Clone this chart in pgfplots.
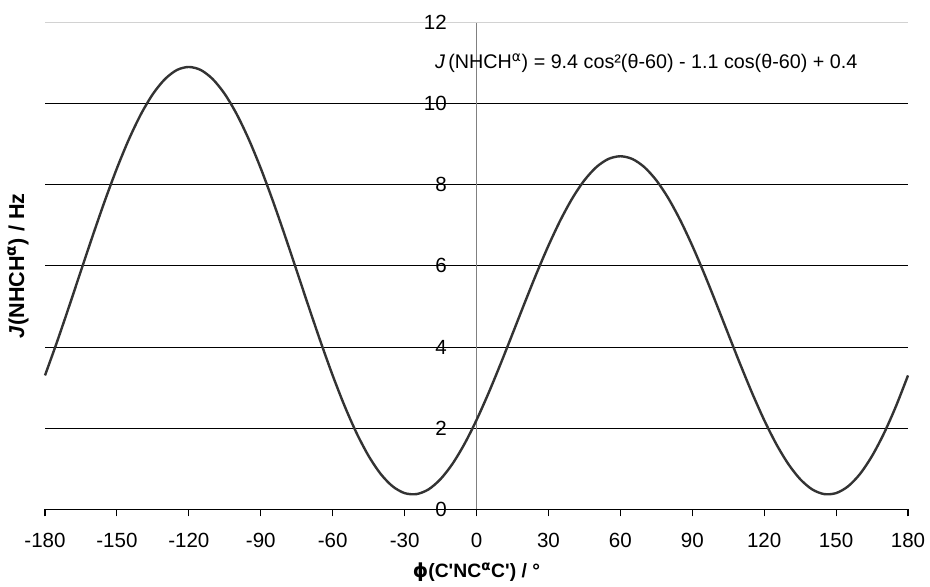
\documentclass[border=0pt]{standalone}
\usepackage{pgfplots}
\pgfplotsset{compat=1.18}
\usepackage{fontspec}
\setmainfont{Liberation Sans}
\newfontfamily\dejavu{DejaVu Sans}

\definecolor{curvecol}{HTML}{333333}

\begin{document}
\fontsize{14.5}{17}\selectfont
\begin{tikzpicture}
\useasboundingbox (-33.75pt,-57.5pt) rectangle (663.75pt,382pt);
\begin{axis}[
    at={(0,0)}, anchor=south west,
    scale only axis,
    width=647.25pt, height=365.25pt,
    xmin=-180, xmax=180, ymin=0, ymax=12,
    axis x line=bottom, axis y line=middle,
    hide obscured y ticks=false,
    x axis line style={-, black, line width=0.8pt},
    y axis line style={-, gray, line width=1.1pt},
    xtick={-180,-150,...,180},
    ytick={0,2,...,10},
    extra y ticks={12},
    extra y tick style={grid style={gray!35, line width=0.8pt}},
    ymajorgrids,
    grid style={black, line width=0.6pt},
    tick align=outside,
    major tick length=5.25pt,
    xtick style={black, line width=0.8pt},
    ytick style={draw=none},
    every tick label/.append style={font=\fontsize{15.4}{18}\selectfont},
    xticklabel style={anchor=center, yshift=-18.25pt},
    yticklabel style={anchor=east, xshift=-12pt},
    /pgf/number format/assume math mode=true,
    clip=false,
]
\addplot[curvecol, line width=1.8pt, smooth] coordinates {
(-180,3.300) (-175,4.124) (-170,4.991) (-165,5.878) (-160,6.759) (-155,7.609)
(-150,8.403) (-145,9.118) (-140,9.734) (-135,10.233) (-130,10.599) (-125,10.825)
(-120,10.900) (-115,10.825) (-110,10.599) (-105,10.233) (-100,9.734) (-95,9.118)
(-90,8.403) (-85,7.609) (-80,6.759) (-75,5.878) (-70,4.991) (-65,4.124)
(-60,3.300) (-55,2.544) (-50,1.876) (-45,1.315) (-40,0.874) (-35,0.567)
(-30,0.400) (-25,0.376) (-20,0.492) (-15,0.745) (-10,1.123) (-5,1.614)
(0,2.200) (5,2.862) (10,3.577) (15,4.322) (20,5.073) (25,5.807)
(30,6.497) (35,7.124) (40,7.667) (45,8.108) (50,8.433) (55,8.633)
(60,8.700) (65,8.633) (70,8.433) (75,8.108) (80,7.667) (85,7.124)
(90,6.497) (95,5.807) (100,5.073) (105,4.322) (110,3.577) (115,2.862)
(120,2.200) (125,1.614) (130,1.123) (135,0.745) (140,0.492) (145,0.376)
(150,0.400) (155,0.567) (160,0.874) (165,1.315) (170,1.876) (175,2.544)
(180,3.300)
};
\node[anchor=west, inner sep=0pt, font=\fontsize{14.8}{17}\selectfont] at (axis cs:-17.4,11.0)
  {\textit{J}\,(NHCH\textsuperscript{\dejavu α}) = 9.4 cos²(θ-60) - 1.1 cos(θ-60) + 0.4};
\node[rotate=90, inner sep=0pt, font=\fontsize{16.2}{19}\selectfont] at ([xshift=-20.25pt]rel axis cs:0,0.5)
  {\bfseries\textit{J}(NHCH\textsuperscript{\dejavu α}) / Hz};
\node[inner sep=0pt] at ([yshift=-47.25pt]rel axis cs:0.5,0)
  {\bfseries{\dejavu ϕ}(C\textquotesingle NC\textsuperscript{\dejavu α}C\textquotesingle) / °};
\end{axis}
\end{tikzpicture}
\end{document}
